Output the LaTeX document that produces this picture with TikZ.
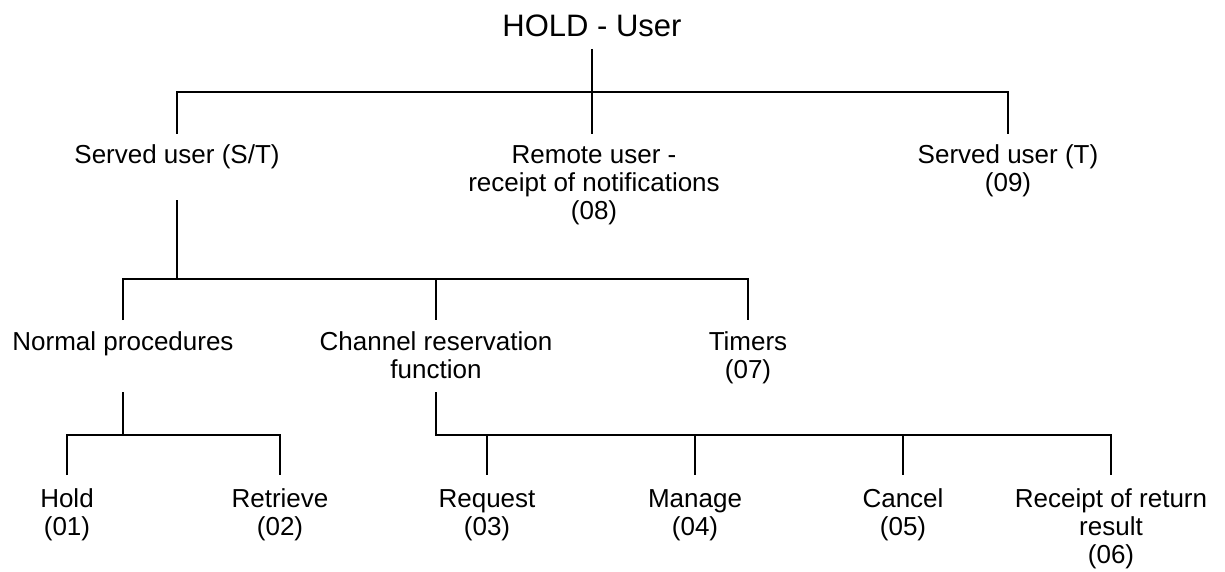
\documentclass[tikz,border=0pt]{standalone}
\usepackage{fontspec}
\setmainfont{Liberation Sans}
\newcommand{\ml}[1]{\begin{tabular}[t]{@{}c@{}}#1\end{tabular}}
\tikzset{
  lbl/.style={anchor=base, inner sep=0pt, font=\fontsize{26}{28}\selectfont},
  ttl/.style={anchor=base, inner sep=0pt, font=\fontsize{31}{34}\selectfont},
  conn/.style={line width=1.8pt, line join=miter}
}
\begin{document}
\begin{tikzpicture}[x=1pt,y=-1pt]
\useasboundingbox (0,0) rectangle (1225,572);
% title
\node[ttl] (root) at (592,37) {HOLD - User};
% row 1
\node[lbl] (su) at (177,164) {\ml{Served user (S/T)}};
\node[lbl] (ru) at (594,164) {\ml{Remote user -\\receipt of notifications\\(08)}};
\node[lbl] (st) at (1008,164) {\ml{Served user (T)\\(09)}};
% row 2
\node[lbl] (np) at (123,350) {\ml{Normal procedures}};
\node[lbl] (cr) at (436,350) {\ml{Channel reservation\\function}};
\node[lbl] (tm) at (748,350) {\ml{Timers\\(07)}};
% row 3
\node[lbl] (ho) at (67,507) {\ml{Hold\\(01)}};
\node[lbl] (re) at (280,507) {\ml{Retrieve\\(02)}};
\node[lbl] (rq) at (487,507) {\ml{Request\\(03)}};
\node[lbl] (mg) at (695,507) {\ml{Manage\\(04)}};
\node[lbl] (cc) at (903,507) {\ml{Cancel\\(05)}};
\node[lbl] (rr) at (1111,507) {\ml{Receipt of return\\result\\(06)}};
% coordinates
\coordinate (root-b) at (592,49);
\coordinate (j1) at (592,92);
\coordinate (su-j) at (177,92);
\coordinate (st-j) at (1008,92);
\coordinate (su-t) at (177,134);
\coordinate (ru-t) at (592,134);
\coordinate (st-t) at (1008,134);
\coordinate (su-b) at (177,200);
\coordinate (j2) at (177,279);
\coordinate (np-j) at (123,279);
\coordinate (cr-j) at (436,279);
\coordinate (tm-j) at (748,279);
\coordinate (np-t) at (123,320);
\coordinate (cr-t) at (436,320);
\coordinate (tm-t) at (748,320);
\coordinate (np-b) at (123,392);
\coordinate (j3) at (123,435);
\coordinate (ho-j) at (67,435);
\coordinate (re-j) at (280,435);
\coordinate (ho-t) at (67,475);
\coordinate (re-t) at (280,475);
\coordinate (cr-b) at (436,392);
\coordinate (cr-j2) at (436,435);
\coordinate (rq-j) at (487,435);
\coordinate (mg-j) at (695,435);
\coordinate (cc-j) at (903,435);
\coordinate (rr-j) at (1111,435);
\coordinate (rq-t) at (487,475);
\coordinate (mg-t) at (695,475);
\coordinate (cc-t) at (903,475);
\coordinate (rr-t) at (1111,475);
% connectors
\draw[conn] (root-b) -- (j1) -- (ru-t);
\draw[conn] (su-t) -- (su-j) -- (st-j) -- (st-t);
\draw[conn] (su-b) -- (j2);
\draw[conn] (np-t) -- (np-j) -- (tm-j) -- (tm-t);
\draw[conn] (cr-j) -- (cr-t);
\draw[conn] (np-b) -- (j3);
\draw[conn] (ho-t) -- (ho-j) -- (re-j) -- (re-t);
\draw[conn] (cr-b) -- (cr-j2) -- (rr-j) -- (rr-t);
\draw[conn] (rq-j) -- (rq-t);
\draw[conn] (mg-j) -- (mg-t);
\draw[conn] (cc-j) -- (cc-t);
\end{tikzpicture}
\end{document}
